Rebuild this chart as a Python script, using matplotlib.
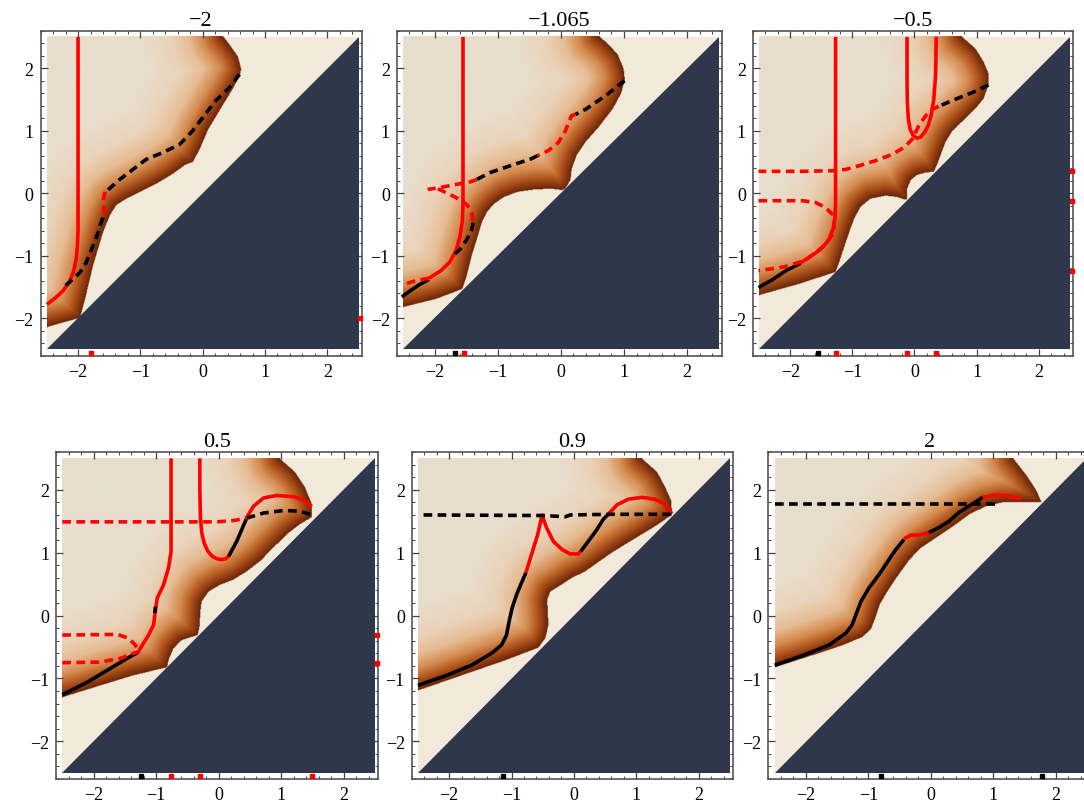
import numpy as np
import matplotlib
matplotlib.use("Agg")
import matplotlib.pyplot as plt
from matplotlib.colors import LinearSegmentedColormap
from matplotlib.path import Path
from matplotlib.patches import Polygon, Rectangle
from matplotlib.ticker import MultipleLocator

plt.rcParams.update({
    "font.family": ["Liberation Serif", "DejaVu Serif"],
    "axes.unicode_minus": True,
})

TITLES = ["\u22122", "\u22121.065", "\u22120.5", "0.5", "0.9", "2"]

# ---- region boundaries (lower edge from the left border, then the arc up to the top) ----
P1_BX = [-2.5, -1.97, -1.89, -1.76, -1.6, -1.49, -1.39, -1.23, -1.01, -0.75, -0.48, -0.29, -0.16, -0.05, 0.08, 0.27, 0.48, 0.6, 0.61, 0.56, 0.45, 0.32]
P1_BY = [-2.15, -2.0, -1.7, -1.16, -0.63, -0.36, -0.2, -0.1, 0.01, 0.14, 0.3, 0.44, 0.49, 0.7, 1.0, 1.32, 1.66, 1.9, 1.98, 2.17, 2.33, 2.5]

P2_BX = [-2.5, -1.98, -1.56, -1.49, -1.41, -1.33, -1.25, -1.17, -1.06, -0.9, -0.69, -0.42, -0.15, 0.01, 0.06, 0.15, 0.17, 0.25, 0.39, 0.6, 0.82, 0.95, 1.01, 0.99, 0.9, 0.76, 0.6]
P2_BY = [-1.83, -1.7, -1.54, -1.32, -1.0, -0.74, -0.47, -0.31, -0.18, -0.07, 0.01, 0.05, 0.06, 0.04, 0.05, 0.2, 0.38, 0.6, 0.81, 1.05, 1.34, 1.58, 1.8, 1.98, 2.2, 2.36, 2.5]

P3_BX = [-2.5, -1.86, -1.27, -1.21, -1.13, -1.05, -0.97, -0.87, -0.71, -0.47, -0.28, -0.17, -0.12, -0.12, -0.06, 0.04, 0.18, 0.31, 0.36, 0.42, 0.5, 0.6, 0.76, 0.98, 1.11, 1.19, 1.19, 1.11, 0.98, 0.76]
P3_BY = [-1.64, -1.46, -1.27, -1.11, -0.87, -0.63, -0.42, -0.23, -0.1, -0.05, -0.07, -0.11, -0.11, 0.06, 0.2, 0.28, 0.32, 0.33, 0.44, 0.6, 0.81, 0.97, 1.13, 1.34, 1.5, 1.72, 1.9, 2.09, 2.3, 2.49]

P4_BX = [-2.5, -1.89, -1.36, -0.82, -0.8, -0.72, -0.59, -0.43, -0.33, -0.3, -0.29, -0.27, -0.16, 0.03, 0.24, 0.45, 0.66, 0.88, 1.09, 1.3, 1.49, 1.49, 1.38, 1.22, 0.98]
P4_BY = [-1.3, -1.11, -0.95, -0.82, -0.71, -0.52, -0.39, -0.34, -0.31, -0.15, 0.06, 0.22, 0.38, 0.49, 0.57, 0.7, 0.86, 1.08, 1.29, 1.45, 1.56, 1.77, 2.04, 2.28, 2.49]

P5_BX = [-2.5, -1.8, -1.1, -0.57, -0.46, -0.41, -0.42, -0.43, -0.38, -0.25, -0.03, 0.18, 0.39, 0.61, 0.87, 1.14, 1.35, 1.57, 1.56, 1.46, 1.33, 1.09]
P5_BY = [-1.19, -0.95, -0.71, -0.51, -0.36, -0.15, 0.06, 0.25, 0.38, 0.46, 0.6, 0.7, 0.85, 1.0, 1.16, 1.32, 1.45, 1.6, 1.82, 2.04, 2.28, 2.49]

P6_BX = [-2.5, -1.9, -1.42, -1.1, -0.96, -0.88, -0.83, -0.72, -0.56, -0.35, -0.16, 0.08, 0.35, 0.61, 0.88, 1.15, 1.47, 1.76, 1.66, 1.52, 1.31]
P6_BY = [-0.82, -0.63, -0.47, -0.34, -0.2, 0.01, 0.17, 0.36, 0.6, 0.89, 1.08, 1.24, 1.42, 1.61, 1.74, 1.8, 1.8, 1.8, 2.01, 2.22, 2.49]

# ---- curves: (kind, x, y) ----
P1_CURVES = [
    ("red", [-2.0, -2.0, -2.0, -2.01, -2.03, -2.07, -2.14, -2.24, -2.37, -2.5],
            [2.5, 0.0, -0.6, -0.85, -1.05, -1.25, -1.42, -1.56, -1.68, -1.78]),
    ("black_dash", [0.59, 0.43, 0.21, 0.0, -0.16, -0.37, -0.64, -0.91, -1.12, -1.33, -1.49, -1.56],
                   [1.9, 1.69, 1.48, 1.21, 1.0, 0.78, 0.65, 0.54, 0.38, 0.22, 0.08, 0.02]),
    ("red_dash", [-1.56, -1.58, -1.59, -1.58, -1.6], [0.02, -0.02, -0.1, -0.31, -0.39]),
    ("black_dash", [-1.6, -1.63, -1.68, -1.76, -1.87, -1.97, -2.11, -2.24],
                   [-0.39, -0.47, -0.63, -0.84, -1.11, -1.27, -1.4, -1.51]),
]
P1_DOTS = [("red", -1.8, -2.55), ("red", 2.53, -2.0)]

P2_CURVES = [
    ("red", [-1.55, -1.55, -1.55, -1.56, -1.6, -1.66, -1.76, -1.9, -2.09],
            [2.5, 0.5, -0.2, -0.45, -0.7, -0.92, -1.1, -1.24, -1.36]),
    ("black", [-2.09, -2.25, -2.4, -2.52], [-1.38, -1.47, -1.57, -1.66]),
    ("red_dash", [-2.09, -2.3, -2.46], [-1.36, -1.4, -1.45]),
    ("black_dash", [1.01, 0.71, 0.39, 0.23], [1.8, 1.56, 1.34, 1.26]),
    ("red_dash", [0.23, 0.17, 0.06, -0.04, -0.2, -0.37], [1.26, 1.24, 0.97, 0.81, 0.68, 0.6]),
    ("black_dash", [-0.37, -0.47, -0.8, -1.12, -1.33], [0.6, 0.55, 0.44, 0.33, 0.22]),
    ("red_dash", [-1.33, -1.44, -1.66, -1.92, -2.11], [0.22, 0.18, 0.14, 0.09, 0.06]),
    ("red_dash", [-1.95, -1.82, -1.66, -1.49, -1.41, -1.39], [0.07, 0.01, -0.07, -0.18, -0.31, -0.47]),
    ("black_dash", [-1.39, -1.41, -1.49, -1.6, -1.71], [-0.47, -0.58, -0.74, -0.9, -1.0]),
]
P2_DOTS = [("black", -1.67, -2.55), ("red", -1.53, -2.55)]

P3_CURVES = [
    ("red", [-1.27, -1.27, -1.27, -1.28, -1.31, -1.38, -1.51, -1.67, -1.83],
            [2.5, 0.5, -0.2, -0.4, -0.57, -0.75, -0.9, -1.01, -1.11]),
    ("black", [-1.83, -2.07, -2.28, -2.51], [-1.12, -1.24, -1.38, -1.51]),
    ("red", [-0.12, -0.12, -0.115, -0.1, -0.07, -0.02, 0.04, 0.1, 0.16, 0.22, 0.27, 0.31, 0.34, 0.35],
            [2.5, 1.8, 1.45, 1.2, 1.02, 0.92, 0.88, 0.9, 0.97, 1.08, 1.25, 1.5, 1.9, 2.5]),
    ("black_dash", [1.19, 0.93, 0.6, 0.39], [1.73, 1.61, 1.48, 1.39]),
    ("red_dash", [0.39, 0.28, 0.18, 0.07, -0.04, -0.17, -0.36, -0.63, -0.89, -1.11, -1.32, -1.8, -2.51],
                 [1.39, 1.34, 1.24, 1.08, 0.86, 0.73, 0.62, 0.52, 0.44, 0.38, 0.36, 0.35, 0.35]),
    ("red_dash", [-2.51, -1.8, -1.59, -1.43, -1.32, -1.29, -1.3, -1.43, -1.59, -1.77, -2.1, -2.51],
                 [-0.12, -0.12, -0.15, -0.23, -0.34, -0.47, -0.63, -0.82, -0.95, -1.08, -1.18, -1.24]),
]
P3_DOTS = [("black", -1.55, -2.55), ("red", -1.27, -2.55), ("red", -0.12, -2.55), ("red", 0.35, -2.55),
           ("red", 2.53, 0.35), ("red", 2.53, -0.12), ("red", 2.53, -1.24)]

P4_CURVES = [
    ("red", [-0.76, -0.76, -0.76, -0.8, -0.88, -0.98, -1.01, -1.04, -1.12, -1.25, -1.28],
            [2.5, 1.5, 1.02, 0.76, 0.49, 0.28, 0.09, -0.15, -0.31, -0.52, -0.58]),
    ("black", [-1.01, -1.02], [0.14, 0.04]),
    ("black", [-1.28, -1.46, -1.78, -2.1, -2.5], [-0.58, -0.68, -0.87, -1.06, -1.26]),
    ("red", [-0.3, -0.3, -0.29, -0.27, -0.23, -0.17, -0.1, -0.02, 0.05, 0.11, 0.16],
            [2.5, 2.0, 1.56, 1.32, 1.15, 1.02, 0.94, 0.9, 0.89, 0.9, 0.94]),
    ("black", [0.16, 0.29, 0.45], [0.94, 1.18, 1.55]),
    ("red", [0.45, 0.56, 0.72, 0.93, 1.2, 1.38, 1.49], [1.56, 1.74, 1.87, 1.91, 1.89, 1.83, 1.73]),
    ("black_dash", [0.45, 0.72, 1.04, 1.3, 1.49], [1.55, 1.63, 1.67, 1.66, 1.6]),
    ("red_dash", [-2.5, -0.03, 0.24, 0.45], [1.49, 1.49, 1.51, 1.55]),
    ("red_dash", [-2.5, -1.62, -1.44, -1.33, -1.3], [-0.31, -0.3, -0.36, -0.47, -0.55]),
    ("red_dash", [-2.5, -1.89, -1.57, -1.36, -1.28], [-0.75, -0.74, -0.68, -0.6, -0.58]),
]
P4_DOTS = [("black", -1.24, -2.55), ("red", -0.76, -2.55), ("red", -0.3, -2.55), ("red", 1.49, -2.55),
           ("red", 2.53, -0.31), ("red", 2.53, -0.75)]

P5_CURVES = [
    ("black", [-2.5, -2.06, -1.64, -1.32, -1.16, -1.08, -1.04, -0.99, -0.92, -0.84, -0.77],
              [-1.11, -0.96, -0.79, -0.6, -0.47, -0.31, -0.1, 0.12, 0.33, 0.52, 0.68]),
    ("red", [-0.77, -0.68, -0.58, -0.51, -0.44, -0.33, -0.19, -0.06, 0.07, 0.11],
            [0.68, 0.97, 1.29, 1.6, 1.4, 1.18, 1.05, 0.98, 0.98, 1.02]),
    ("black", [0.11, 0.23, 0.37, 0.47, 0.55], [1.02, 1.18, 1.37, 1.53, 1.61]),
    ("red", [0.55, 0.69, 0.87, 1.09, 1.3, 1.46, 1.57], [1.61, 1.76, 1.85, 1.88, 1.85, 1.77, 1.62]),
    ("black_dash", [-2.41, -0.46, -0.14, -0.06, 0.61, 1.57], [1.6, 1.59, 1.57, 1.6, 1.61, 1.61]),
]
P5_DOTS = [("black", -1.13, -2.55)]

P6_CURVES = [
    ("black", [-2.5, -2.06, -1.63, -1.36, -1.26, -1.2, -1.12, -0.99, -0.83, -0.67, -0.56, -0.43],
              [-0.79, -0.64, -0.47, -0.28, -0.15, 0.01, 0.22, 0.44, 0.65, 0.89, 1.05, 1.21]),
    ("red", [-0.43, -0.32, -0.19, -0.03], [1.22, 1.28, 1.28, 1.32]),
    ("black", [-0.03, 0.13, 0.29, 0.45, 0.61, 0.83], [1.32, 1.4, 1.5, 1.64, 1.74, 1.88]),
    ("red", [0.83, 1.04, 1.26, 1.44], [1.88, 1.92, 1.9, 1.85]),
    ("black_dash", [-2.5, 1.04], [1.78, 1.78]),
]
P6_DOTS = [("black", -0.8, -2.55), ("black", 1.77, -2.55)]

PANELS = [
    (P1_BX, P1_BY, P1_CURVES, P1_DOTS),
    (P2_BX, P2_BY, P2_CURVES, P2_DOTS),
    (P3_BX, P3_BY, P3_CURVES, P3_DOTS),
    (P4_BX, P4_BY, P4_CURVES, P4_DOTS),
    (P5_BX, P5_BY, P5_CURVES, P5_DOTS),
    (P6_BX, P6_BY, P6_CURVES, P6_DOTS),
]

# ---- styling ----
BG = "#F1E9D9"
NAVY = "#2F374C"
LW = 2.6
STYLES = {
    "red": dict(color="#FF0000", lw=LW, ls="-"),
    "black": dict(color="black", lw=LW, ls="-"),
    "red_dash": dict(color="#FF0000", lw=LW, dashes=(2.4, 1.5)),
    "black_dash": dict(color="black", lw=LW, dashes=(2.4, 1.5)),
}
# colour as a function of distance from the region edge
D_STOPS = [0.0, 0.07, 0.18, 0.33, 0.55, 0.85, 1.3, 2.0]
C_STOPS = ["#6A2607", "#8A380F", "#B45A20", "#D58C50", "#E6BC94", "#EAD4BB", "#E8DDCC", "#E7DECE"]
cmap = LinearSegmentedColormap.from_list(
    "blob", list(zip(np.array(D_STOPS) / D_STOPS[-1], C_STOPS)))

AX_POS = [
    [0.0375, 0.5558, 0.2961, 0.4047],
    [0.3660, 0.5558, 0.2998, 0.4047],
    [0.6946, 0.5558, 0.2952, 0.4047],
    [0.0517, 0.0286, 0.2970, 0.4072],
    [0.3798, 0.0286, 0.2964, 0.4072],
    [0.7088, 0.0286, 0.2970, 0.4072],
]

N = 500
g = (np.arange(N) + 0.5) / N * 5.0 - 2.5
GX, GY = np.meshgrid(g, g)


def boundary_distance(xs, ys):
    d = np.full(GX.shape, np.inf)
    for x0, y0, x1, y1 in zip(xs[:-1], ys[:-1], xs[1:], ys[1:]):
        dx, dy = x1 - x0, y1 - y0
        t = np.clip(((GX - x0) * dx + (GY - y0) * dy) / (dx * dx + dy * dy), 0, 1)
        d = np.minimum(d, np.hypot(GX - x0 - t * dx, GY - y0 - t * dy))
    return d


def blob_image(bx, by):
    verts = list(zip(bx, by)) + [(bx[-1], 2.7), (-2.7, 2.7), (-2.7, by[0])]
    inside = Path(verts).contains_points(np.c_[GX.ravel(), GY.ravel()]).reshape(GX.shape)
    d = boundary_distance(bx, by)
    rgba = cmap(np.clip(d / D_STOPS[-1], 0, 1))
    rgba[..., 3] = inside.astype(float)
    return rgba


fig = plt.figure(figsize=(10.84, 8.03), dpi=100)

for pos, title, (bx, by, curves, dots) in zip(AX_POS, TITLES, PANELS):
    ax = fig.add_axes(pos)
    ax.add_patch(Rectangle((-2.5, -2.5), 5, 5, facecolor=BG, edgecolor="none", zorder=0))
    ax.imshow(blob_image(bx, by), origin="lower", extent=(-2.5, 2.5, -2.5, 2.5),
              interpolation="bilinear", zorder=1, aspect="auto")
    ax.add_patch(Polygon([(-2.5, -2.5), (2.5, -2.5), (2.5, 2.5)], closed=True,
                         facecolor=NAVY, edgecolor="none", zorder=2))
    for kind, xs, ys in curves:
        ax.plot(xs, ys, zorder=3, solid_capstyle="butt", solid_joinstyle="round", **STYLES[kind])
    for col, x, y in dots:
        ax.plot([x], [y], "s", ms=2.2, color="#FF0000" if col == "red" else "black",
                clip_on=False, zorder=4)

    ax.set_xlim(-2.6, 2.55)
    ax.set_ylim(-2.6, 2.6)
    ax.set_facecolor("white")
    ax.xaxis.set_major_locator(MultipleLocator(1))
    ax.yaxis.set_major_locator(MultipleLocator(1))
    ax.xaxis.set_minor_locator(MultipleLocator(0.2))
    ax.yaxis.set_minor_locator(MultipleLocator(0.2))
    ax.tick_params(which="both", direction="in", top=True, right=True,
                   color="#444444", labelsize=13, pad=5)
    ax.tick_params(which="major", length=5, width=0.9)
    ax.tick_params(which="minor", length=2.5, width=0.7)
    for sp in ax.spines.values():
        sp.set_color("#555555")
        sp.set_linewidth(1.2)
    ax.set_title(title, fontsize=16, pad=4)

fig.savefig("out.png", dpi=100)
